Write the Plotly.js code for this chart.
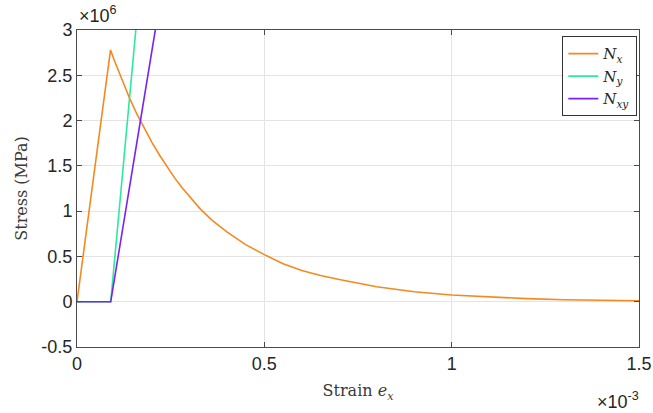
<!DOCTYPE html>
<html>
<head>
<meta charset="utf-8">
<script src="https://cdn.plot.ly/plotly-3.0.1.min.js"></script>
<style>html,body{margin:0;padding:0;background:#fff;}#chart{width:653px;height:413px;}</style>
</head>
<body>
<div id="chart"></div>
<script>
// Strain in units of 1e-3, stress in units of 1e6 (MPa)
const nxStrain = [0, 0.0895, 0.10, 0.12, 0.14, 0.16, 0.18, 0.20, 0.22, 0.24, 0.26, 0.28, 0.30, 0.33, 0.36, 0.40, 0.45, 0.50, 0.55, 0.60, 0.65, 0.70, 0.80, 0.90, 1.00, 1.10, 1.20, 1.30, 1.40, 1.50];
const nxStress = [0, 2.78, 2.66, 2.45, 2.25, 2.07, 1.91, 1.76, 1.62, 1.49, 1.37, 1.26, 1.16, 1.02, 0.90, 0.77, 0.63, 0.52, 0.42, 0.345, 0.29, 0.245, 0.165, 0.11, 0.074, 0.05, 0.034, 0.022, 0.015, 0.01];
const nyStrain = [0, 0.09, 0.157];
const nyStress = [0, 0, 3.0];
const nxyStrain = [0, 0.09, 0.209];
const nxyStress = [0, 0, 3.0];

const xTickVals = [0, 0.5, 1, 1.5];
const xTickText = ['0', '0.5', '1', '1.5'];
const yTickVals = [-0.5, 0, 0.5, 1, 1.5, 2, 2.5, 3];
const yTickText = ['-0.5', '0', '0.5', '1', '1.5', '2', '2.5', '3'];

const axisColor = '#4a4a4a';
const tickFont = {family: 'Liberation Sans, Arial, sans-serif', size: 18, color: '#262626'};
const serif = 'DejaVu Serif, serif';

const traces = [
  {x: nxStrain, y: nxStress, mode: 'lines', name: '<i>N<sub>x</sub></i>', line: {color: '#f5891f', width: 1.6}},
  {x: nyStrain, y: nyStress, mode: 'lines', name: '<i>N<sub>y</sub></i>', line: {color: '#2ee8a0', width: 1.6}},
  {x: nxyStrain, y: nxyStress, mode: 'lines', name: '<i>N<sub>xy</sub></i>', line: {color: '#7b22f0', width: 1.6}}
];

const layout = {
  width: 653, height: 413,
  margin: {l: 77, r: 14, t: 30, b: 66, pad: 0},
  paper_bgcolor: '#ffffff', plot_bgcolor: '#ffffff',
  showlegend: true,
  legend: {
    x: 0.997, xanchor: 'right', y: 0.98, yanchor: 'top',
    bgcolor: '#ffffff', bordercolor: '#333333', borderwidth: 1,
    font: {family: serif, size: 15, color: '#262626'},
    itemwidth: 30, tracegroupgap: 0
  },
  xaxis: {
    range: [0, 1.5], tickmode: 'array', tickvals: xTickVals, ticktext: xTickText,
    showline: true, linecolor: axisColor, linewidth: 1, mirror: 'ticks',
    ticks: 'inside', ticklen: 5, tickcolor: axisColor,
    showgrid: true, gridcolor: '#e4e4e4', gridwidth: 1, zeroline: false,
    tickfont: tickFont,
    title: {text: 'Strain <i>e<sub>x</sub></i>', font: {family: serif, size: 16, color: '#3a3a3a'}, standoff: 12}
  },
  yaxis: {
    range: [-0.5, 3], tickmode: 'array', tickvals: yTickVals, ticktext: yTickText,
    showline: true, linecolor: axisColor, linewidth: 1, mirror: 'ticks',
    ticks: 'inside', ticklen: 5, tickcolor: axisColor,
    showgrid: true, gridcolor: '#e4e4e4', gridwidth: 1, zeroline: false,
    tickfont: tickFont,
    title: {text: 'Stress (MPa)', font: {family: serif, size: 16, color: '#3a3a3a'}, standoff: 9}
  },
  annotations: [
    {xref: 'paper', yref: 'paper', x: 0, y: 1, xanchor: 'left', yanchor: 'bottom', yshift: 2, showarrow: false,
     text: '×10<sup>6</sup>', font: {family: 'Liberation Sans, Arial, sans-serif', size: 18, color: '#262626'}},
    {xref: 'paper', yref: 'paper', x: 1, y: 0, xanchor: 'right', yanchor: 'top', yshift: -40, xshift: 2, showarrow: false,
     text: '×10<sup>-3</sup>', font: {family: 'Liberation Sans, Arial, sans-serif', size: 18, color: '#262626'}}
  ]
};

Plotly.newPlot('chart', traces, layout, {displayModeBar: false});
</script>
</body>
</html>
